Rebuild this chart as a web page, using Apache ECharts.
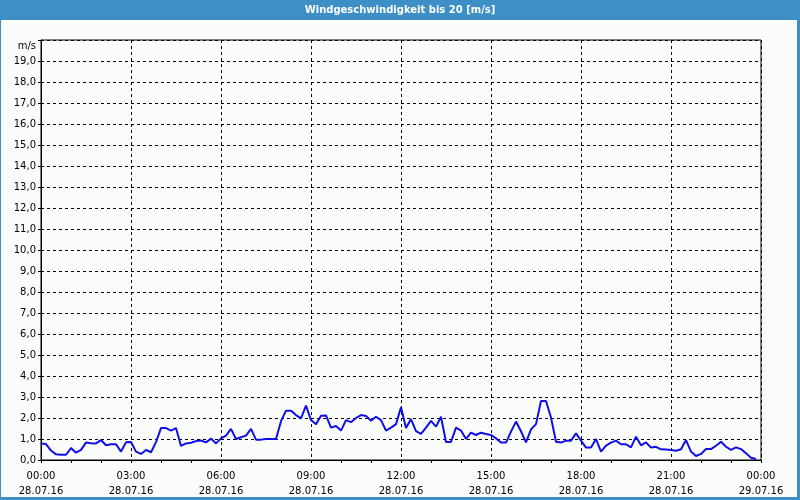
<!DOCTYPE html>
<html>
<head>
<meta charset="utf-8">
<script src="https://cdn.jsdelivr.net/npm/echarts@6/dist/echarts.min.js"></script>
<style>
html,body{margin:0;padding:0;background:#fbfdfb;}
#chart{width:800px;height:500px;}
</style>
</head>
<body>
<div id="chart"></div>
<script>
// Wind speed readings, every 10 minutes from 28.07.16 00:00 (minutes since start)
var startMinute = 0;
var stepMinutes = 10;
var windSpeed = [
  0.79,0.76,0.45,0.27,0.25,0.25,0.57,0.35,0.48,0.83,0.80,0.79,0.95,0.70,0.75,0.75,
  0.40,0.84,0.86,0.40,0.29,0.48,0.37,0.85,1.52,1.52,1.40,1.52,0.67,0.79,0.82,0.90,
  0.93,0.84,1.02,0.79,1.03,1.16,1.48,1.00,1.08,1.16,1.48,0.97,0.97,1.00,1.00,1.00,
  1.85,2.35,2.35,2.14,1.98,2.59,1.90,1.70,2.11,2.12,1.54,1.62,1.40,1.90,1.80,2.00,
  2.14,2.10,1.87,2.06,1.90,1.40,1.54,1.71,2.51,1.52,1.95,1.38,1.24,1.54,1.86,1.59,
  2.06,0.86,0.86,1.54,1.40,1.00,1.30,1.19,1.30,1.24,1.19,1.03,0.83,0.83,1.35,1.83,
  1.37,0.84,1.46,1.71,2.81,2.81,2.02,0.87,0.83,0.92,0.92,1.27,0.92,0.59,0.59,1.00,
  0.40,0.68,0.83,0.92,0.75,0.75,0.60,1.11,0.70,0.84,0.59,0.63,0.51,0.50,0.48,0.44,
  0.51,0.95,0.40,0.19,0.29,0.52,0.52,0.68,0.87,0.63,0.48,0.60,0.52,0.32,0.11,0.05
];
var xTickMinutes = [0,180,360,540,720,900,1080,1260,1440];
var xTickLabels = ['00:00\n28.07.16','03:00\n28.07.16','06:00\n28.07.16','09:00\n28.07.16',
  '12:00\n28.07.16','15:00\n28.07.16','18:00\n28.07.16','21:00\n28.07.16','00:00\n29.07.16'];
var titleText = 'Windgeschwindigkeit bis 20 [m/s]';
var yUnit = 'm/s';

var seriesData = windSpeed.map(function(v, i){ return [startMinute + i*stepMinutes, v]; });

var chart = echarts.init(document.getElementById('chart'), null, {renderer:'canvas'});
var font = 'DejaVu Sans';
chart.setOption({
  animation:false,
  backgroundColor:'#fbfdfb',
  graphic:[
    {type:'rect', shape:{x:0,y:0,width:800,height:20}, style:{fill:'#3d8fc6'}, z:0},
    {type:'rect', shape:{x:0.5,y:0.5,width:798,height:498.5}, style:{fill:null, stroke:'#3d8fc6', lineWidth:1}, z:0},
    {type:'rect', shape:{x:797,y:0,width:3,height:500}, style:{fill:'#3d8fc6'}, z:0},
    {type:'rect', shape:{x:0,y:497,width:800,height:3}, style:{fill:'#3d8fc6'}, z:0},
    {type:'text', left:'center', top:5, style:{text:titleText, fill:'#ffffff', font:'bold 10px "DejaVu Sans"'}, z:1}
  ],
  grid:{left:41,right:39,top:40,bottom:40,show:true,borderColor:'#000',borderWidth:1,backgroundColor:'transparent'},
  xAxis:{
    type:'value', min:0, max:1440, interval:180,
    axisLine:{show:true,lineStyle:{color:'#000',width:1}},
    axisTick:{show:true,length:3,lineStyle:{color:'#000'}},
    minorTick:{show:true,splitNumber:3,length:3,lineStyle:{color:'#000'}},
    splitLine:{show:true,lineStyle:{color:'#000',type:[3,3],width:1}},
    axisLabel:{
      fontFamily:font, fontSize:10, color:'#000', lineHeight:15, margin:9,
      showMaxLabel:true, showMinLabel:true,
      formatter:function(v){ var k = xTickMinutes.indexOf(v); return k>=0 ? xTickLabels[k] : ''; }
    }
  },
  yAxis:{
    type:'value', min:0, max:20, interval:1,
    name:yUnit, nameLocation:'end', nameGap:-11,
    nameTextStyle:{fontFamily:font,fontSize:10,color:'#000',align:'right',padding:[0,5,0,0]},
    axisLine:{show:true,lineStyle:{color:'#000',width:1}},
    axisTick:{show:true,length:3,lineStyle:{color:'#000'}},
    splitLine:{show:true,lineStyle:{color:'#000',type:[3,3],width:1}},
    axisLabel:{
      fontFamily:font, fontSize:10, color:'#000', margin:5,
      formatter:function(v){ return v>=20 ? '' : v.toFixed(1).replace('.',','); }
    }
  },
  series:[{
    type:'line', data:seriesData, showSymbol:false, symbol:'none',
    lineStyle:{color:'#1010e6',width:2}, itemStyle:{color:'#1010e6'}
  }]
});
</script>
</body>
</html>
